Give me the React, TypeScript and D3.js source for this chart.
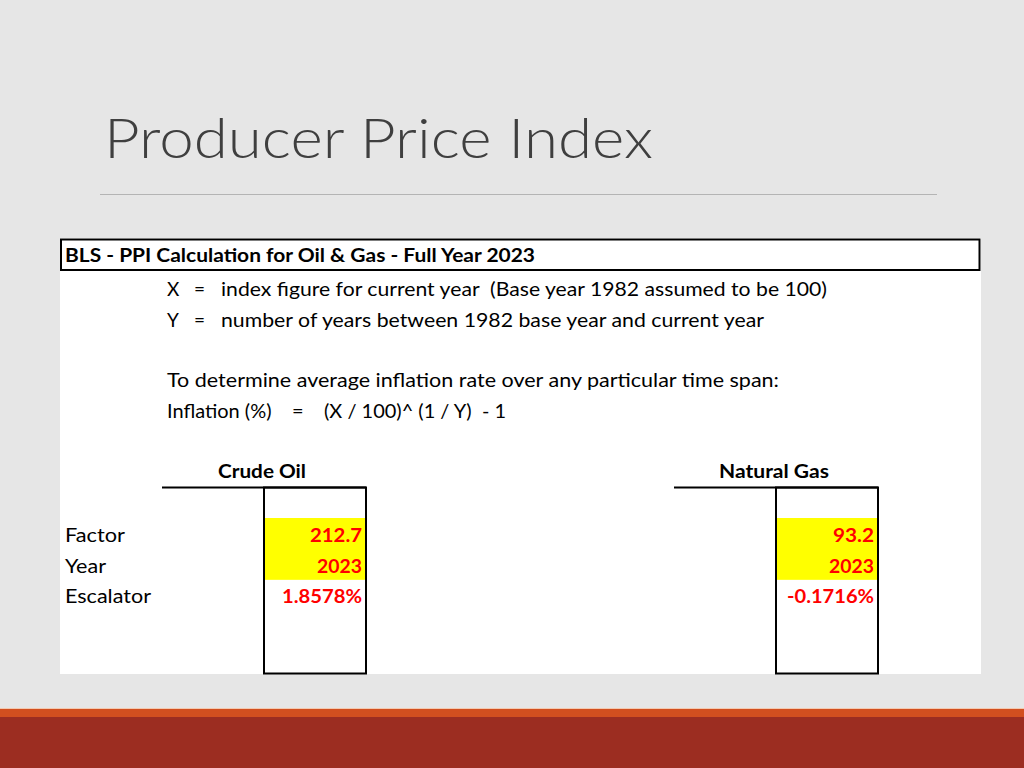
import React from "react";
import * as d3 from "d3";

const title = "Producer Price Index";
const headerText = "BLS - PPI Calculation for Oil & Gas - Full Year 2023";
const definitionSymbols = ["X", "Y"];
const definitionTexts = [
  "index figure for current year  (Base year 1982 assumed to be 100)",
  "number of years between 1982 base year and current year",
];
const formulaLines = [
  "To determine average inflation rate over any particular time span:",
  "Inflation (%)    =    (X / 100)^ (1 / Y)  - 1",
];
const rowLabels = ["Factor", "Year", "Escalator"];
const series = ["Crude Oil", "Natural Gas"];
const crudeOilValues = ["212.7", "2023", "1.8578%"];
const naturalGasValues = ["93.2", "2023", "-0.1716%"];
const highlighted = [true, true, false];

const FONT = "Lato, 'Open Sans', sans-serif";

// approximate rendered widths measured from the reference
const rowLabelWidths = [60, 41, 86];
const seriesWidths = [88, 110];
const valueWidths = [[52, 45, 80], [41, 45, 87]];

export default function App() {
  const W = 1024, H = 768;
  const colX = d3.scalePoint<string>().domain(series).range([366, 878]);
  const rowY = d3.scaleBand<string>().domain(rowLabels).range([518, 610]).padding(0);
  const valuesBySeries = [crudeOilValues, naturalGasValues];
  const boxW = 102;
  const pre = { whiteSpace: "pre" as const };

  return (
    <svg width={W} height={H} style={{ position: "absolute", left: 0, top: 0 }}>
      <rect x={0} y={0} width={W} height={H} fill="#e6e6e6" />
      <text x={104} y={158} fontFamily={FONT} fontWeight={300} fontSize={56} fill="#3f3f3f" textLength={549} lengthAdjust="spacingAndGlyphs">{title}</text>
      <line x1={100} x2={937} y1={194.5} y2={194.5} stroke="#b4b4b4" strokeWidth={1} />

      <rect x={60} y={238} width={921} height={436} fill="#ffffff" />
      <rect x={61} y={239.5} width={918.5} height={30.5} fill="none" stroke="#000" strokeWidth={2} />
      <text x={65} y={262} fontFamily={FONT} fontWeight={700} fontSize={19} fill="#000" textLength={470} lengthAdjust="spacingAndGlyphs">{headerText}</text>

      {definitionSymbols.map((s, i) => (
        <g key={s} fontFamily={FONT} fontSize={19} fill="#000">
          <text x={167} y={296 + i * 30.5}>{s}</text>
          <text x={194} y={296 + i * 30.5}>=</text>
          <text x={221} y={296 + i * 30.5} style={pre} textLength={i === 0 ? 606 : 543} lengthAdjust="spacingAndGlyphs">{definitionTexts[i]}</text>
        </g>
      ))}
      {formulaLines.map((t, i) => (
        <text key={i} x={167} y={387 + i * 30.5} style={pre} fontFamily={FONT} fontSize={19} fill="#000" textLength={i === 0 ? 612 : 339} lengthAdjust="spacingAndGlyphs">{t}</text>
      ))}

      {rowLabels.map((r, ri) => (
        <text key={r} x={65} y={(rowY(r) as number) + 24} fontFamily={FONT} fontSize={19.5} fill="#000" textLength={rowLabelWidths[ri]} lengthAdjust="spacingAndGlyphs">{r}</text>
      ))}

      {series.map((s, si) => {
        const right = colX(s) as number;
        const left = right - boxW;
        return (
          <g key={s}>
            <text x={left - 2 - seriesWidths[si] / 2} y={478} fontFamily={FONT} fontWeight={700} fontSize={19.5} fill="#000" textLength={seriesWidths[si]} lengthAdjust="spacingAndGlyphs">{s}</text>
            {rowLabels.map((r, ri) => highlighted[ri] ? (
              <rect key={r} x={left} y={rowY(r) as number} width={boxW} height={rowY.bandwidth() + 0.5} fill="#ffff00" />
            ) : null)}
            <line x1={left - 102} x2={right} y1={487.5} y2={487.5} stroke="#000" strokeWidth={2} />
            <rect x={left} y={487.5} width={boxW} height={186} fill="none" stroke="#000" strokeWidth={2} />
            {rowLabels.map((r, ri) => (
              <text key={r} x={right - 4 - valueWidths[si][ri]} y={(rowY(r) as number) + 24} fontFamily={FONT} fontWeight={700} fontSize={19.5} fill="#ff0000" textLength={valueWidths[si][ri]} lengthAdjust="spacingAndGlyphs">{valuesBySeries[si][ri]}</text>
            ))}
          </g>
        );
      })}

      <rect x={0} y={708} width={W} height={2} fill="#f3c9b0" />
      <rect x={0} y={709} width={W} height={8} fill="#d24f1f" />
      <rect x={0} y={717} width={W} height={51} fill="#9c2d21" />
    </svg>
  );
}
